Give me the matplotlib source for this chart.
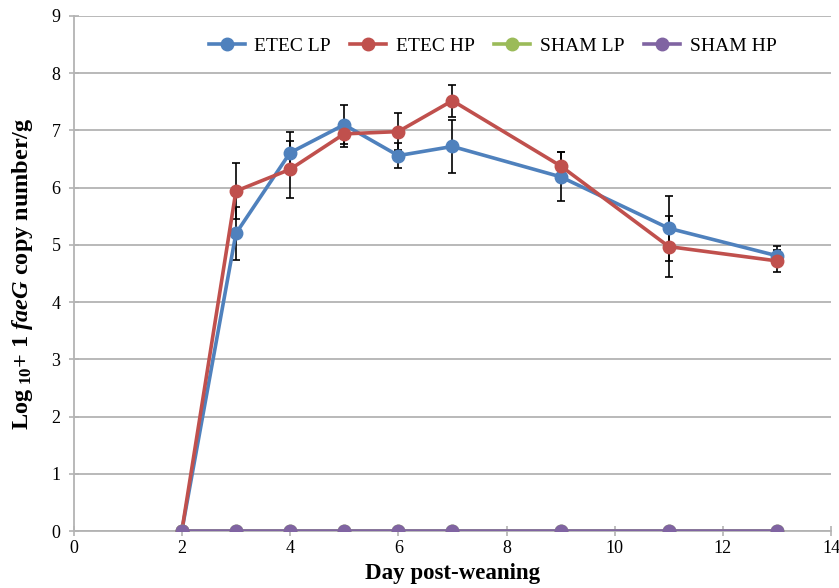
import numpy as np
import matplotlib
matplotlib.use("Agg")
import matplotlib.pyplot as plt

plt.rcParams.update({
    "font.family": "Liberation Serif",
    "mathtext.fontset": "custom",
    "mathtext.rm": "Liberation Serif:bold",
    "mathtext.it": "Liberation Serif:italic:bold",
    "mathtext.bf": "Liberation Serif:bold",
})

# ==================== data ====================
days = [2, 3, 4, 5, 6, 7, 9, 11, 13]
etec_lp = [0, 5.20, 6.61, 7.10, 6.56, 6.72, 6.19, 5.29, 4.81]
etec_lp_err = [0, 0.47, 0.37, 0.34, 0.22, 0.47, 0.43, 0.57, 0.17]
etec_hp = [0, 5.94, 6.32, 6.94, 6.98, 7.52, 6.38, 4.97, 4.72]
etec_hp_err = [0, 0.49, 0.50, 0.23, 0.33, 0.28, 0.25, 0.53, 0.19]
sham_lp = [0, 0, 0, 0, 0, 0, 0, 0, 0]
sham_hp = [0, 0, 0, 0, 0, 0, 0, 0, 0]

COL_LP = "#4F81BD"
COL_HP = "#C0504D"
COL_SLP = "#9BBB59"
COL_SHP = "#8064A2"
GRID = "#B3B3B3"

fig = plt.figure(figsize=(8.39, 5.88), dpi=100)
ax = fig.add_axes([0.0877, 0.0969, 0.9030, 0.8759])

handles = []
for y, e, c, lab in [(etec_lp, etec_lp_err, COL_LP, "ETEC LP"),
                     (etec_hp, etec_hp_err, COL_HP, "ETEC HP")]:
    ax.errorbar(days, y, yerr=e, fmt="none", ecolor="black", elinewidth=1.2,
                capsize=3, capthick=1.2, zorder=2)
    h, = ax.plot(days, y, color=c, lw=2.6, marker="o", ms=9, label=lab, zorder=3)
    handles.append(h)
h, = ax.plot(days, sham_lp, color=COL_SLP, lw=2.6, marker="o", ms=9, label="SHAM LP", zorder=4)
handles.append(h)
h, = ax.plot(days, sham_hp, color=COL_SHP, lw=2.6, marker="o", ms=9, label="SHAM HP", zorder=5)
handles.append(h)

ax.set_xlim(0, 14)
ax.set_ylim(0, 9)
ax.set_xticks(range(0, 15, 2))
ax.set_yticks(range(0, 10))
ax.yaxis.grid(True, color=GRID, lw=1.3)
ax.set_axisbelow(True)
for s in ["top", "right"]:
    ax.spines[s].set_visible(False)
for s in ["left", "bottom"]:
    ax.spines[s].set_color(GRID)
    ax.spines[s].set_linewidth(1.3)
ax.tick_params(axis="both", direction="inout", length=7, width=1.2, color=GRID,
               labelsize=13, pad=3)
ax.tick_params(axis="y", pad=6)

ax.set_xlabel("Day post-weaning", fontsize=16.5, fontweight="bold", labelpad=4)
ax.set_ylabel(r"Log$_{\ 10}$+ 1 $\it{faeG}$ copy number/g", fontsize=17.5,
              fontweight="bold", labelpad=12)

ax.legend(handles=handles, loc="center", bbox_to_anchor=(0.553, 0.942), ncol=4,
          frameon=False, fontsize=14, handlelength=1.85, columnspacing=1.0,
          handletextpad=0.5)

fig.savefig("out.png", dpi=100)
